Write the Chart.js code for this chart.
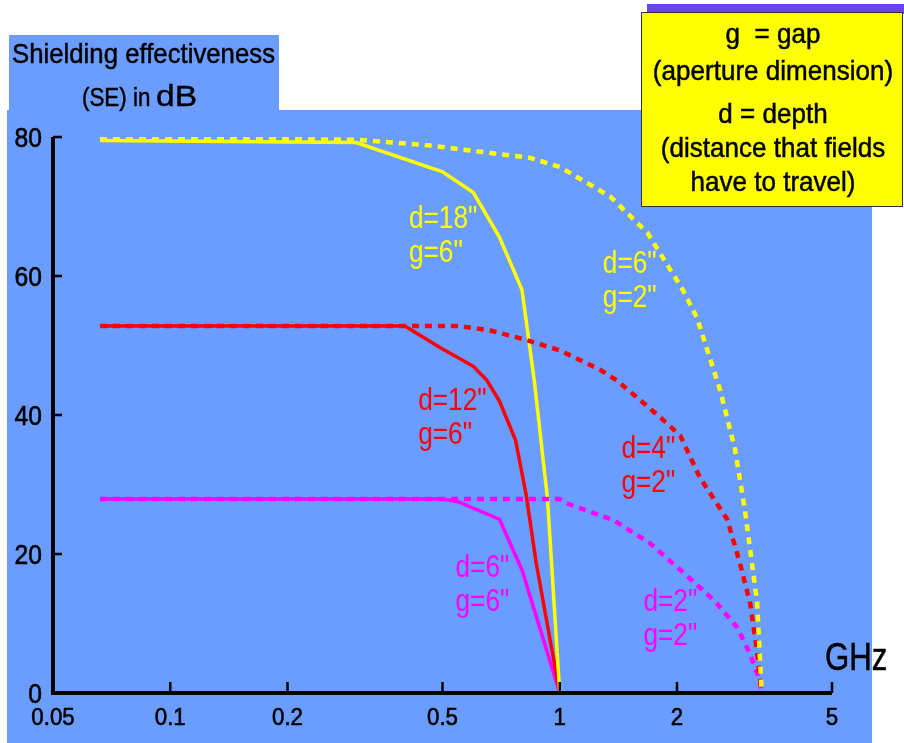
<!DOCTYPE html>
<html>
<head>
<meta charset="utf-8">
<script src="https://cdn.jsdelivr.net/npm/chart.js@4.4.1/dist/chart.umd.min.js"></script>
<style>
  html, body { margin: 0; padding: 0; background: #fff; }
  #se-chart { display: block; }
</style>
</head>
<body>
<canvas id="se-chart" width="904" height="743"></canvas>
<script>
// frequency in GHz, shielding effectiveness in dB
const freqYellowSolid = [0.066, 0.3, 0.5, 0.6, 0.7, 0.8, 0.86, 0.93, 1.0];
const seYellowSolid   = [79.5, 79.2, 75, 72, 65.6, 58, 45, 28, 0];

const freqYellowDash = [0.066, 0.3, 0.46, 0.84, 1.0, 1.35, 1.68, 2.07, 2.25, 2.58, 2.82, 2.99, 3.21, 3.3];
const seYellowDash   = [80, 79.6, 78.8, 77, 75.7, 71.4, 66.2, 58, 54, 43.6, 35, 26.2, 13.2, 0];

const freqRedSolid = [0.066, 0.4, 0.5, 0.6, 0.65, 0.7, 0.77, 0.82, 0.87, 1.0];
const seRedSolid   = [52.8, 52.8, 49.5, 47, 45, 42, 36.4, 28.5, 18.7, 0];

const freqRedDash = [0.066, 0.55, 0.66, 0.82, 1.0, 1.27, 1.4, 1.81, 2.04, 2.29, 2.69, 2.9, 3.08, 3.2, 3.3];
const seRedDash   = [52.8, 52.8, 52.2, 50.8, 49.3, 46.5, 45, 39.7, 37, 31, 25, 18.7, 13, 6.6, 0];

const freqMagentaSolid = [0.066, 0.5, 0.55, 0.7, 0.8, 1.0];
const seMagentaSolid   = [27.9, 27.9, 27.5, 25, 17.7, 0];

const freqMagentaDash = [0.066, 1.0, 1.04, 1.37, 1.7, 2.04, 2.33, 2.53, 2.85, 3.07, 3.26, 3.3];
const seMagentaDash   = [27.9, 27.9, 27.3, 24.9, 21.6, 17.7, 14.8, 12.9, 9.5, 5.8, 1.9, 0];

const xTicks = [0.05, 0.1, 0.2, 0.5, 1, 2, 5];
const xTickLabels = ['0.05', '0.1', '0.2', '0.5', '1', '2', '5'];
const yTicks = [0, 20, 40, 60, 80];

// curve captions, anchored in data space (left edge / baseline of first line)
const curveLabels = [
    { lines: ['d=18"', 'g=6"'], color: '#ffff00', f: 0.41, db: 66.9 },
    { lines: ['d=6"', 'g=2"'], color: '#ffff00', f: 1.29, db: 60.4 },
    { lines: ['d=12"', 'g=6"'], color: '#ff0000', f: 0.433, db: 40.7 },
    { lines: ['d=4"', 'g=2"'], color: '#ff0000', f: 1.44, db: 33.8 },
    { lines: ['d=6"', 'g=6"'], color: '#ff00ff', f: 0.54, db: 16.7 },
    { lines: ['d=2"', 'g=2"'], color: '#ff00ff', f: 1.64, db: 11.8 }
];

const legendLines = ['g  = gap', '(aperture dimension)', 'd = depth', '(distance that fields', 'have to travel)'];

const BLUE = '#6b9cff';
const FONT = '"Liberation Sans", Arial, sans-serif';

function pts(xs, ys) {
    return xs.map((x, i) => ({ x: x, y: ys[i] }));
}

// horizontally scaled text, like the narrow Helvetica in the original
function narrowText(ctx, text, x, y, size, align, squeeze, heavy) {
    ctx.save();
    ctx.font = size + 'px ' + FONT;
    const w = ctx.measureText(text).width * squeeze;
    let left = x;
    if (align === 'center') left = x - w / 2;
    if (align === 'right') left = x - w;
    ctx.translate(left, y);
    ctx.scale(squeeze, 1);
    ctx.textAlign = 'left';
    ctx.fillText(text, 0, 0);
    if (heavy) {
        ctx.strokeStyle = ctx.fillStyle;
        ctx.lineWidth = heavy;
        ctx.strokeText(text, 0, 0);
    }
    ctx.restore();
    return w;
}

const backdrop = {
    id: 'backdrop',
    beforeDraw(chart) {
        const ctx = chart.ctx;
        ctx.save();
        ctx.fillStyle = '#ffffff';
        ctx.fillRect(0, 0, chart.width, chart.height);
        ctx.fillStyle = BLUE;
        ctx.fillRect(7, 110, 865, 633);   // main panel
        ctx.fillRect(9, 35, 270, 76);     // y title tab
        ctx.fillStyle = '#6a44f0';
        ctx.fillRect(647, 4, 257, 10);    // strip behind the note box
        ctx.restore();
    }
};

const axesAndText = {
    id: 'axesAndText',
    afterDatasetsDraw(chart) {
        const ctx = chart.ctx;
        const xs = chart.scales.x, ys = chart.scales.y;
        const x0 = xs.getPixelForValue(xTicks[0]);
        const x1 = xs.getPixelForValue(xTicks[xTicks.length - 1]);
        const yb = ys.getPixelForValue(0);
        const yt = ys.getPixelForValue(80);

        ctx.save();
        ctx.strokeStyle = '#000';
        ctx.lineCap = 'butt';
        // axis lines
        ctx.lineWidth = 4;
        ctx.beginPath();
        ctx.moveTo(x0, yt);
        ctx.lineTo(x0, yb);
        ctx.lineTo(x1, yb);
        ctx.stroke();
        // ticks, pointing into the plot
        ctx.lineWidth = 2.5;
        yTicks.slice(1).forEach(v => {
            const y = ys.getPixelForValue(v);
            ctx.beginPath();
            ctx.moveTo(x0, y);
            ctx.lineTo(x0 + 9, y);
            ctx.stroke();
        });
        xTicks.slice(1).forEach(v => {
            const x = xs.getPixelForValue(v);
            ctx.beginPath();
            ctx.moveTo(x, yb);
            ctx.lineTo(x, yb - 11);
            ctx.stroke();
        });

        ctx.fillStyle = '#000';
        ctx.textBaseline = 'alphabetic';
        yTicks.forEach(v => {
            narrowText(ctx, String(v), x0 - 11, ys.getPixelForValue(v) + 10, 28, 'right', 0.88, 0.6);
        });
        xTicks.forEach((v, i) => {
            narrowText(ctx, xTickLabels[i], xs.getPixelForValue(v), yb + 32, 24, 'center', 0.93, 0.6);
        });
        narrowText(ctx, 'GHz', 825, 670, 38, 'left', 0.82, 0.5);

        // y axis title
        narrowText(ctx, 'Shielding effectiveness', 12, 63, 28, 'left', 0.92, 0.5);
        narrowText(ctx, '(SE) in', 82, 106, 26, 'left', 0.86, 0.5);
        narrowText(ctx, 'dB', 156, 106, 30, 'left', 1.12, 0.4);

        // curve captions
        curveLabels.forEach(lab => {
            ctx.fillStyle = lab.color;
            const lx = xs.getPixelForValue(lab.f);
            const ly = ys.getPixelForValue(lab.db);
            lab.lines.forEach((t, i) => narrowText(ctx, t, lx, ly + i * 34, 32, 'left', 0.82, 0));
        });

        // note box
        ctx.fillStyle = '#ffff00';
        ctx.fillRect(641, 12, 262, 195);
        ctx.strokeStyle = '#333';
        ctx.lineWidth = 1;
        ctx.strokeRect(641.5, 12.5, 261, 194);
        ctx.fillStyle = '#000';
        const baselines = [43, 80, 123, 157, 191];
        legendLines.forEach((t, i) => narrowText(ctx, t, 773, baselines[i], 28, 'center', 0.93, 0.5));
        ctx.restore();
    }
};

const solid = (label, xs, ys, color) => ({
    label: label,
    data: pts(xs, ys),
    borderColor: color,
    borderWidth: 3.5,
    pointRadius: 0,
    tension: 0,
    fill: false
});
const dashed = (label, xs, ys, color) => ({
    label: label,
    data: pts(xs, ys),
    borderColor: color,
    borderWidth: 4.5,
    borderDash: [7, 6],
    pointRadius: 0,
    tension: 0,
    fill: false
});

try {
    new Chart(document.getElementById('se-chart'), {
        type: 'line',
        data: {
            datasets: [
                dashed('d=6" g=2"', freqYellowDash, seYellowDash, '#ffff00'),
                dashed('d=4" g=2"', freqRedDash, seRedDash, '#ff0000'),
                dashed('d=2" g=2"', freqMagentaDash, seMagentaDash, '#ff00ff'),
                solid('d=18" g=6"', freqYellowSolid, seYellowSolid, '#ffff00'),
                solid('d=12" g=6"', freqRedSolid, seRedSolid, '#ff0000'),
                solid('d=6" g=6"', freqMagentaSolid, seMagentaSolid, '#ff00ff')
            ]
        },
        options: {
            responsive: false,
            animation: false,
            devicePixelRatio: 1,
            layout: { padding: { left: 53, right: 72, top: 137, bottom: 50 } },
            plugins: { legend: { display: false }, tooltip: { enabled: false } },
            scales: {
                x: { type: 'logarithmic', min: 0.05, max: 5, display: false },
                y: { type: 'linear', min: 0, max: 80, display: false }
            }
        },
        plugins: [backdrop, axesAndText]
    });
} catch (error) {
    console.error(error.message);
}
</script>
</body>
</html>
